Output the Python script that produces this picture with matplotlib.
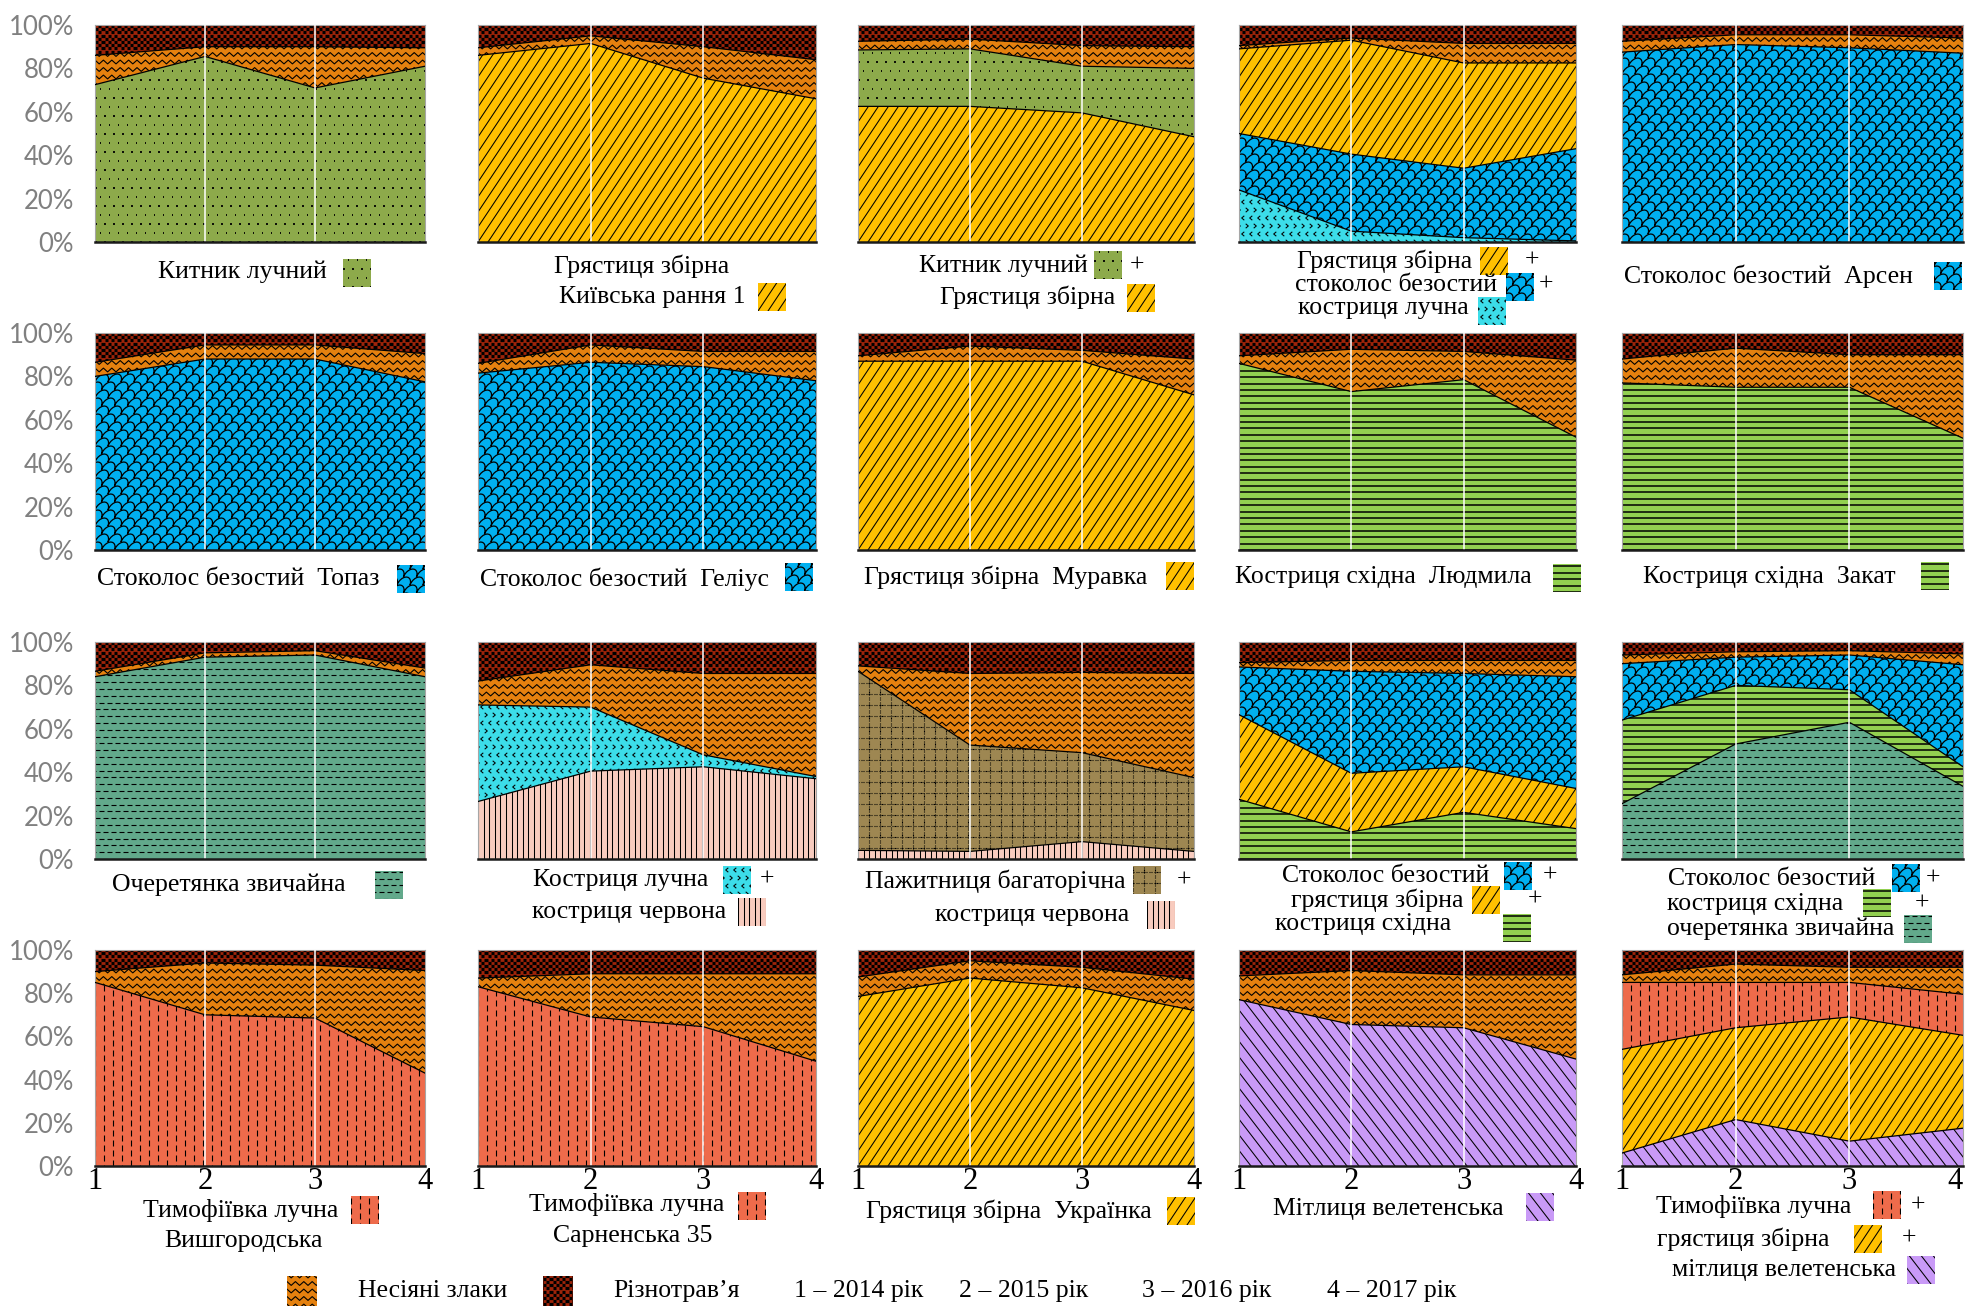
import numpy as np
import matplotlib
matplotlib.use("Agg")
import matplotlib.pyplot as plt
import matplotlib.transforms as mtransforms
from matplotlib.collections import LineCollection

W, H = 1966, 1308

YEARS = [1, 2, 3, 4]
YEAR_LABELS = ["1 – 2014 рік", "2 – 2015 рік", "3 – 2016 рік", "4 – 2017 рік"]
Y_TICKS = [0, 20, 40, 60, 80, 100]

# Shares in herbage, % (bottom-up); the remainder up to 100 is forbs (різнотрав'я)
# row 1
kytnyk_1 = [72.5, 85.5, 71.0, 81.0]
zlaky_1 = [13.5, 4.5, 19.0, 8.5]

hrast_2 = [86.0, 91.5, 75.5, 66.0]
zlaky_2 = [3.5, 3.5, 14.5, 18.0]

hrast_3 = [62.5, 62.5, 59.5, 48.5]
kytnyk_3 = [26.0, 26.5, 21.5, 31.5]
zlaky_3 = [4.0, 4.5, 9.5, 10.0]

kluch_4 = [24.0, 5.0, 2.0, 0.5]
stok_4 = [26.0, 35.5, 32.0, 42.5]
hrast_4 = [39.0, 52.5, 48.5, 39.5]
zlaky_4 = [1.5, 1.0, 9.0, 9.0]

stok_5 = [87.5, 91.0, 89.5, 87.0]
zlaky_5 = [5.0, 4.5, 6.0, 7.0]

# row 2
stok_6 = [80.0, 88.0, 88.0, 77.5]
zlaky_6 = [6.5, 6.5, 6.5, 13.0]

stok_7 = [81.5, 86.5, 84.5, 78.0]
zlaky_7 = [4.5, 8.0, 7.0, 13.5]

hrast_8 = [87.0, 87.0, 87.0, 71.5]
zlaky_8 = [2.5, 7.0, 5.0, 16.5]

kskh_9 = [86.0, 73.0, 78.5, 52.0]
zlaky_9 = [3.5, 19.5, 13.0, 35.5]

kskh_10 = [77.0, 75.0, 75.0, 51.5]
zlaky_10 = [11.0, 18.0, 15.0, 38.5]

# row 3
ocher_11 = [84.0, 93.0, 94.0, 84.0]
zlaky_11 = [2.5, 2.0, 2.0, 4.0]

kcherv_12 = [26.5, 40.5, 42.5, 37.0]
kluch_12 = [44.5, 29.5, 5.5, 1.0]
zlaky_12 = [11.0, 19.5, 37.5, 47.5]

kcherv_13 = [4.0, 3.5, 8.0, 3.5]
pazh_13 = [82.5, 49.0, 41.0, 34.0]
zlaky_13 = [2.5, 33.0, 37.0, 48.0]

kskh_14 = [27.5, 12.5, 21.5, 14.0]
hrast_14 = [39.0, 27.0, 21.0, 18.5]
stok_14 = [22.0, 47.0, 43.0, 51.5]
zlaky_14 = [2.0, 5.0, 6.0, 7.5]

ocher_15 = [25.5, 53.0, 63.0, 33.5]
kskh_15 = [38.5, 27.0, 15.0, 9.0]
stok_15 = [26.0, 13.0, 16.0, 47.0]
zlaky_15 = [4.0, 2.5, 2.0, 5.0]

# row 4
tym_16 = [85.0, 70.0, 68.5, 43.0]
zlaky_16 = [5.0, 24.0, 24.5, 47.5]

tym_17 = [83.0, 69.0, 64.5, 48.5]
zlaky_17 = [4.0, 20.0, 24.5, 40.5]

hrast_18 = [78.5, 87.0, 82.5, 72.0]
zlaky_18 = [9.0, 8.0, 9.5, 14.5]

mitl_19 = [77.0, 65.5, 64.0, 49.5]
zlaky_19 = [11.0, 25.0, 24.5, 39.0]

mitl_20 = [6.0, 21.5, 11.5, 17.5]
hrast_20 = [48.0, 42.5, 57.5, 43.0]
tym_20 = [31.0, 21.0, 16.0, 19.0]
zlaky_20 = [3.5, 8.5, 7.0, 12.5]

SPECIES = {
    "riznotrav": ("#9E240A", "checker"),
    "zlaky": ("#E5810F", "zigzag"),
    "kytnyk": ("#8DAA4B", "dots"),
    "hrast": ("#FFC000", "diag"),
    "stok": ("#00B0F0", "scales"),
    "kluch": ("#3CDDE9", "divot"),
    "kskh": ("#92D050", "hlines"),
    "ocher": ("#62A98B", "hdash"),
    "kcherv": ("#F8CBBE", "vlines"),
    "pazh": ("#9E8752", "dotgrid"),
    "tym": ("#EE6B4B", "vdash"),
    "mitl": ("#C99AF7", "backdiag"),
}

PANELS = [
    [("kytnyk", kytnyk_1), ("zlaky", zlaky_1)],
    [("hrast", hrast_2), ("zlaky", zlaky_2)],
    [("hrast", hrast_3), ("kytnyk", kytnyk_3), ("zlaky", zlaky_3)],
    [("kluch", kluch_4), ("stok", stok_4), ("hrast", hrast_4), ("zlaky", zlaky_4)],
    [("stok", stok_5), ("zlaky", zlaky_5)],
    [("stok", stok_6), ("zlaky", zlaky_6)],
    [("stok", stok_7), ("zlaky", zlaky_7)],
    [("hrast", hrast_8), ("zlaky", zlaky_8)],
    [("kskh", kskh_9), ("zlaky", zlaky_9)],
    [("kskh", kskh_10), ("zlaky", zlaky_10)],
    [("ocher", ocher_11), ("zlaky", zlaky_11)],
    [("kcherv", kcherv_12), ("kluch", kluch_12), ("zlaky", zlaky_12)],
    [("kcherv", kcherv_13), ("pazh", pazh_13), ("zlaky", zlaky_13)],
    [("kskh", kskh_14), ("hrast", hrast_14), ("stok", stok_14), ("zlaky", zlaky_14)],
    [("ocher", ocher_15), ("kskh", kskh_15), ("stok", stok_15), ("zlaky", zlaky_15)],
    [("tym", tym_16), ("zlaky", zlaky_16)],
    [("tym", tym_17), ("zlaky", zlaky_17)],
    [("hrast", hrast_18), ("zlaky", zlaky_18)],
    [("mitl", mitl_19), ("zlaky", zlaky_19)],
    [("mitl", mitl_20), ("hrast", hrast_20), ("tym", tym_20), ("zlaky", zlaky_20)],
]

# caption lines under each panel: (text, x, y, swatch key, swatch x, swatch y, plus x)
CAPTIONS = [
    [("Китник лучний", 242, 272, "kytnyk", 357, 273, None)],
    [("Грястиця збірна", 642, 266, None, 0, 0, None),
     ("Київська рання 1", 652, 297, "hrast", 772, 297, None)],
    [("Китник лучний", 1003, 266, "kytnyk", 1108, 265, 1137),
     ("Грястиця збірна", 1028, 297, "hrast", 1141, 298, None)],
    [("Грястиця збірна", 1385, 261, "hrast", 1494, 261, 1532),
     ("стоколос безостий", 1396, 285, "stok", 1520, 287, 1546),
     ("костриця лучна", 1383, 308, "kluch", 1492, 311, None)],
    [("Стоколос безостий  Арсен", 1768, 276, "stok", 1948, 276, None)],
    [("Стоколос безостий  Топаз", 238, 579, "stok", 411, 579, None)],
    [("Стоколос безостий  Геліус", 624, 579, "stok", 799, 577, None)],
    [("Грястиця збірна  Муравка", 1006, 577, "hrast", 1180, 576, None)],
    [("Костриця східна  Людмила", 1383, 577, "kskh", 1567, 578, None)],
    [("Костриця східна  Закат", 1769, 577, "kskh", 1935, 576, None)],
    [("Очеретянка звичайна", 229, 885, "ocher", 389, 885, None)],
    [("Костриця лучна", 621, 880, "kluch", 737, 880, 767),
     ("костриця червона", 629, 912, "kcherv", 752, 912, None)],
    [("Пажитниця багаторічна", 995, 881, "pazh", 1147, 880, 1184),
     ("костриця червона", 1032, 915, "kcherv", 1161, 915, None)],
    [("Стоколос безостий", 1386, 876, "stok", 1518, 876, 1550),
     ("грястиця збірна", 1377, 900, "hrast", 1486, 900, 1535),
     ("костриця східна", 1363, 924, "kskh", 1517, 928, None)],
    [("Стоколос безостий", 1772, 879, "stok", 1906, 878, 1933),
     ("костриця східна", 1755, 904, "kskh", 1877, 903, 1922),
     ("очеретянка звичайна", 1781, 929, "ocher", 1918, 929, None)],
    [("Тимофіївка лучна", 241, 1210, "tym", 365, 1210, None),
     ("Вишгородська", 244, 1241, None, 0, 0, None)],
    [("Тимофіївка лучна", 627, 1205, "tym", 752, 1206, None),
     ("Сарненська 35", 633, 1236, None, 0, 0, None)],
    [("Грястиця збірна  Українка", 1009, 1211, "hrast", 1181, 1211, None)],
    [("Мітлиця велетенська", 1388, 1209, "mitl", 1540, 1207, None)],
    [("Тимофіївка лучна", 1754, 1206, "tym", 1887, 1205, 1918),
     ("грястиця збірна", 1743, 1239, "hrast", 1868, 1239, 1909),
     ("мітлиця велетенська", 1784, 1270, "mitl", 1921, 1270, None)],
]

COL_X = [(95, 425), (478, 816), (858, 1194), (1239, 1576), (1622, 1963)]
ROW_Y = [(25, 242), (333, 550), (642, 859), (950, 1166)]

SERIF = "Liberation Serif"
TXT = 18.5


def px_rect(left, right, top, bottom):
    return [left / W, 1 - bottom / H, (right - left) / W, (bottom - top) / H]


def _steps(lo, hi, step, phase=0.0):
    k = np.arange(np.floor((lo - phase) / step), np.ceil((hi - phase) / step) + 1)
    return k.astype(int), k * step + phase


def pattern_segments(kind, x0, x1, y0, y1):
    """Line segments (in pixels, axes origin) for a fill texture."""
    segs = []
    if kind == "zigzag":
        ix, xs = _steps(x0, x1, 4.2)
        amp = np.where(ix % 2 == 0, 1.9, -1.9)
        for y in _steps(y0, y1, 7.5)[1]:
            segs.append(np.column_stack([xs, y + amp]))
        return segs, 0.8, "round"
    if kind == "checker":
        c = 3.2
        for j, y in zip(*_steps(y0, y1, c)):
            for x in _steps(x0, x1, 2 * c, (j % 2) * c)[1]:
                segs.append([(x, y + c / 2), (x + c, y + c / 2)])
        return segs, c * 0.72, "butt"
    if kind == "dots":
        for j, y in zip(*_steps(y0, y1, 9.0)):
            for x in _steps(x0, x1, 9.0, (j % 2) * 4.5)[1]:
                segs.append([(x, y), (x + 1.8, y)])
        return segs, 1.3, "butt"
    if kind == "diag":
        s, d = 1.5, 10.0
        for b in _steps(x0 - y1 / s, x1 - y0 / s, d)[1]:
            segs.append([(b + y0 / s, y0), (b + y1 / s, y1)])
        return segs, 0.75, "butt"
    if kind == "backdiag":
        s, d = 1.3, 12.0
        for b in _steps(x0 + y0 / s, x1 + y1 / s, d)[1]:
            segs.append([(b - y0 / s, y0), (b - y1 / s, y1)])
        return segs, 0.75, "butt"
    if kind == "scales":
        rx, ry = 6.5, 8.0
        t = np.linspace(np.pi, 0, 11)
        for k, y in zip(*_steps(y0 - ry, y1, ry)):
            cx = _steps(x0 - 2 * rx, x1 + 2 * rx, 2 * rx, (k % 2) * rx)[1]
            xx = (cx[:, None] + rx * np.cos(t)[None, :] + 0.35 * ry * np.sin(t)[None, :]).ravel()
            yy = (y + ry * np.sin(t)[None, :] + 0 * cx[:, None]).ravel()
            segs.append(np.column_stack([xx, yy]))
        return segs, 0.9, "round"
    if kind == "divot":
        for j, y in zip(*_steps(y0, y1, 8.0)):
            sgn = 1 if j % 2 == 0 else -1
            for x in _steps(x0, x1, 8.0, (j % 2) * 4.0)[1]:
                segs.append([(x - 1.3 * sgn, y + 2.2), (x + 1.3 * sgn, y),
                             (x - 1.3 * sgn, y - 2.2)])
        return segs, 0.75, "butt"
    if kind == "hlines":
        for y in _steps(y0, y1, 6.4)[1]:
            segs.append([(x0, y), (x1, y)])
        return segs, 1.1, "butt"
    if kind == "hdash":
        for j, y in zip(*_steps(y0, y1, 6.8)):
            for x in _steps(x0, x1, 8.0, (j % 2) * 4.0)[1]:
                segs.append([(x, y), (x + 4.5, y)])
        return segs, 0.8, "butt"
    if kind == "vlines":
        for x in _steps(x0, x1, 5.6)[1]:
            segs.append([(x, y0), (x, y1)])
        return segs, 0.75, "butt"
    if kind == "vdash":
        for i, x in zip(*_steps(x0, x1, 9.0)):
            for y in _steps(y0, y1, 10.0, (i % 2) * 5.0)[1]:
                segs.append([(x, y), (x, y + 6.0)])
        return segs, 0.8, "butt"
    if kind == "dotgrid":
        g, p = 11.0, 2.6
        for y in _steps(y0, y1, g)[1]:
            for x in _steps(x0, x1, p)[1]:
                segs.append([(x, y), (x + 1.2, y)])
        for x in _steps(x0, x1, g)[1]:
            for y in _steps(y0, y1, p)[1]:
                segs.append([(x, y), (x, y + 1.2)])
        return segs, 0.8, "butt"
    return segs, 0.7, "butt"


def add_texture(ax, path, kind):
    bb = ax.get_position()
    w, h = bb.width * W, bb.height * H
    frame = mtransforms.Affine2D().scale(1 / w, 1 / h) + ax.transAxes
    loc = ax.transAxes.inverted().transform(ax.transData.transform(path.vertices)) * [w, h]
    x0, y0 = loc.min(axis=0) - 8
    x1, y1 = loc.max(axis=0) + 8
    segs, lw, cap = pattern_segments(kind, x0, x1, y0, y1)
    lc = LineCollection(segs, colors="black", linewidths=lw, capstyle=cap,
                        transform=frame, zorder=2)
    lc.set_clip_path(path, ax.transData)
    ax.add_collection(lc, autolim=False)


def swatch(key, cx, cy, size=28):
    color, kind = SPECIES[key]
    sax = fig.add_axes(px_rect(cx - size / 2, cx + size / 2, cy - size / 2, cy + size / 2))
    sax.set_xlim(0, 1)
    sax.set_ylim(0, 1)
    sax.axis("off")
    poly = sax.fill_between([0, 1], [0, 0], [1, 1], facecolor=color, lw=0)
    add_texture(sax, poly.get_paths()[0], kind)


def ftext(s, x, y, **kw):
    kw.setdefault("fontsize", TXT)
    kw.setdefault("family", SERIF)
    fig.text(x / W, 1 - y / H, s, ha="center", va="center", color="black", **kw)


fig = plt.figure(figsize=(W / 100, H / 100), dpi=100)
x = np.array(YEARS, dtype=float)

for idx, layers in enumerate(PANELS):
    row, col = divmod(idx, 5)
    (left, right), (top, bottom) = COL_X[col], ROW_Y[row]
    ax = fig.add_axes(px_rect(left, right, top, bottom))
    ax.set_xlim(1, 4)
    ax.set_ylim(0, 100)

    lower = np.zeros(len(YEARS))
    rest = 100 - np.sum([v for _, v in layers], axis=0)
    for key, share in layers + [("riznotrav", rest)]:
        upper = lower + np.asarray(share, dtype=float)
        color, kind = SPECIES[key]
        poly = ax.fill_between(x, lower, upper, facecolor=color, lw=0, zorder=1)
        add_texture(ax, poly.get_paths()[0], kind)
        if key != "riznotrav":
            ax.plot(x, upper, color="black", lw=0.9, zorder=3)
        lower = upper

    for xv in YEARS[1:-1]:
        ax.axvline(xv, color="white", lw=1.1, zorder=4)

    for side in ("top", "left", "right"):
        ax.spines[side].set_color("#A6A6A6")
        ax.spines[side].set_linewidth(0.8)
    ax.spines["bottom"].set_color("#1a1a1a")
    ax.spines["bottom"].set_linewidth(1.8)
    ax.spines["bottom"].set_zorder(5)

    ax.set_yticks(Y_TICKS)
    ax.set_xticks(YEARS)
    ax.tick_params(length=0)
    if col == 0:
        ax.set_yticklabels([f"{v}%" for v in Y_TICKS], color="#808080",
                           fontsize=18.5, family="Lato")
        ax.tick_params(axis="y", pad=15)
    else:
        ax.set_yticklabels([])
    if row == 3:
        ax.set_xticklabels([str(v) for v in YEARS], fontsize=22, family=SERIF)
        ax.tick_params(axis="x", pad=1)
        if col == 4:
            # keep the last year label inside the figure edge
            ax.get_xticklabels()[-1].set_horizontalalignment("right")
    else:
        ax.set_xticklabels([])

    for text, tx, ty, key, sx, sy, plus in CAPTIONS[idx]:
        ftext(text, tx, ty)
        if key:
            swatch(key, sx, sy)
        if plus:
            ftext("+", plus, ty)

# common legend along the bottom
swatch("zlaky", 302, 1291, size=30)
ftext("Несіяні злаки", 433, 1291)
swatch("riznotrav", 558, 1291, size=30)
ftext("Різнотрав’я", 677, 1291)
for lab, lx in zip(YEAR_LABELS, [859, 1024, 1207, 1392]):
    ftext(lab, lx, 1291)

fig.savefig("out.png", dpi=100, facecolor="white")
